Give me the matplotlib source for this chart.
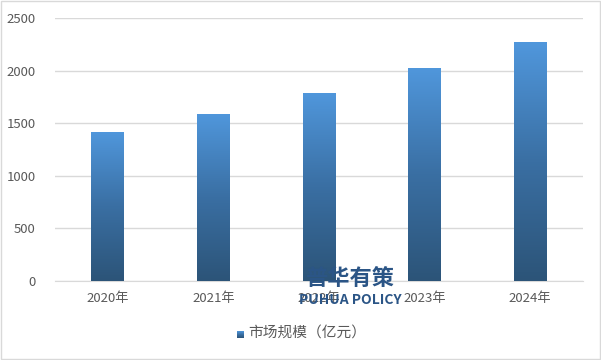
import matplotlib
matplotlib.use("Agg")
import matplotlib.pyplot as plt
import numpy as np
from matplotlib.colors import LinearSegmentedColormap
from matplotlib.patches import Rectangle

plt.rcParams['font.family'] = ['Noto Sans CJK SC', 'DejaVu Sans']

categories = ["2020年", "2021年", "2022年", "2023年", "2024年"]
values = [1420, 1590, 1790, 2025, 2270]
yticks = [0, 500, 1000, 1500, 2000, 2500]
legend_label = "市场规模（亿元）"

fig = plt.figure(figsize=(6.01, 3.60), dpi=100)
ax = fig.add_axes([0.0915, 0.2194, 0.8785, 0.7306])

cmap = LinearSegmentedColormap.from_list("g", ["#2c5478", "#3a6fa3", "#5097dc"])
x = np.arange(len(categories))
width = 0.31
bars = ax.bar(x, values, width=width, color="none", edgecolor="none", zorder=3)
grad = np.linspace(0, 1, 256).reshape(-1, 1)
for b in bars:
    x0, y0 = b.get_x(), b.get_y()
    w, h = b.get_width(), b.get_height()
    im = ax.imshow(grad, extent=[x0, x0 + w, y0, y0 + h], origin="lower",
                   aspect="auto", cmap=cmap, zorder=3)
    im.set_clip_path(b)

ax.set_xlim(-0.5, len(categories) - 0.5)
ax.set_ylim(0, 2500)
ax.set_yticks(yticks)
ax.set_xticks(x)
ax.set_xticklabels(categories)
ax.grid(axis="y", color="#d9d9d9", linewidth=1, zorder=0)
for s in ["top", "right", "left"]:
    ax.spines[s].set_visible(False)
ax.spines["bottom"].set_color("#d9d9d9")
ax.tick_params(axis="both", length=0, labelsize=9.5, labelcolor="#595959", pad=8)
ax.tick_params(axis="y", pad=14)

# legend
lx, ly = 237 / 601, 1 - 334 / 360
sq = fig.add_axes([lx, ly - 0.012, 7 / 601, 7 / 360])
sq.imshow(grad, cmap=cmap, origin="lower", aspect="auto")
sq.axis("off")
fig.text(lx + 11 / 601, ly, legend_label, fontsize=10.6, color="#595959", va="center", ha="left")

# watermark
fig.text(350 / 601, 1 - 278 / 360, "普华有策", fontsize=16, fontweight="bold", color="#2b5586",
         ha="center", va="center", zorder=10)
fig.text(350 / 601, 1 - 300 / 360, "PUHUA POLICY", fontsize=10, fontweight="bold", color="#2b5586",
         ha="center", va="center", zorder=10)

fig.patches.append(Rectangle((0.001, 0.002), 0.997, 0.995, transform=fig.transFigure,
                             fill=False, edgecolor="#d9d9d9", linewidth=1))

fig.savefig("out.png", dpi=100)
